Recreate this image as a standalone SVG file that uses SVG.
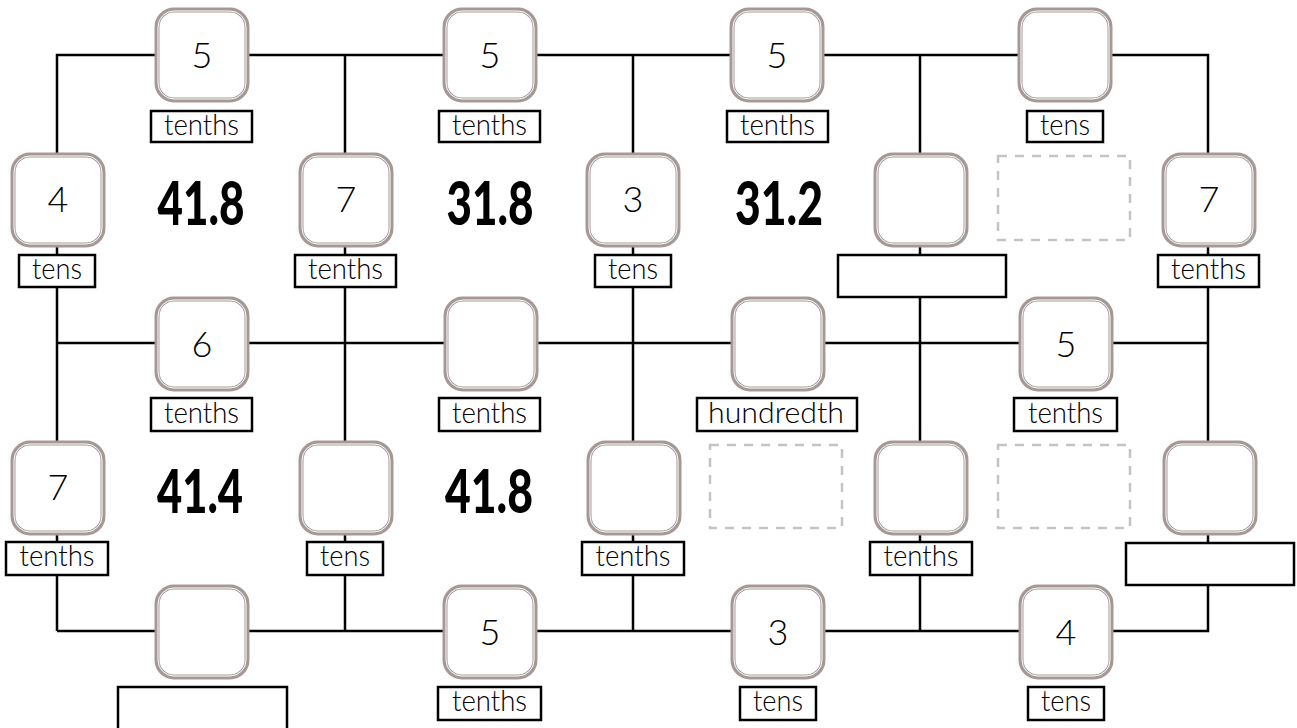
<svg xmlns="http://www.w3.org/2000/svg" width="1297" height="728" viewBox="0 0 1297 728">
<style>
.ln{stroke:#000;stroke-width:2.5;fill:none}
.bo{fill:#fff;stroke:#a59998;stroke-width:5}
.bi{fill:none;stroke:#fff;stroke-width:1}
.lb{fill:#fff;stroke:#000;stroke-width:2.5}
.dash{fill:none;stroke:#c4c4c4;stroke-width:2.5;stroke-dasharray:9 8}
.num{font-family:Lato,"Liberation Sans",sans-serif;font-weight:300;font-size:36px;text-anchor:middle;fill:#000}
.lt{font-family:Lato,"Liberation Sans",sans-serif;font-weight:300;font-size:30px;text-anchor:middle;fill:#000}
.big{font-family:Lato,"Liberation Sans",sans-serif;font-weight:900;font-size:61px;text-anchor:middle;fill:#000}
</style>
<defs>
<g id="box"><rect class="bo" x="-45" y="-45" width="90" height="90" rx="17"/><rect class="bi" x="-44" y="-44" width="88" height="88" rx="16"/></g>
</defs>
<g id="connectors">
<path class="ln" d="M57,631 V55 H1208 V631 H57"/>
<path class="ln" d="M345,55 V631 M633,55 V631 M920,55 V631"/>
<path class="ln" d="M57,343 H1208"/>
</g>
<g id="dashed">
<rect class="dash" x="998" y="156" width="132" height="84"/>
<rect class="dash" x="710" y="445" width="132" height="83"/>
<rect class="dash" x="998" y="445" width="132" height="83"/>
</g>
<g id="numbers">
<text class="big" x="201" y="225" textLength="87" lengthAdjust="spacingAndGlyphs">41.8</text>
<text class="big" x="490" y="225" textLength="87" lengthAdjust="spacingAndGlyphs">31.8</text>
<text class="big" x="779" y="225" textLength="88" lengthAdjust="spacingAndGlyphs">31.2</text>
<text class="big" x="200" y="513" textLength="86" lengthAdjust="spacingAndGlyphs">41.4</text>
<text class="big" x="489" y="513" textLength="88" lengthAdjust="spacingAndGlyphs">41.8</text>
</g>
<g id="n1"><use href="#box" x="202" y="55"/><text class="num" x="202" y="68">5</text><rect class="lb" x="151" y="111" width="101" height="31"/><text class="lt" x="201.5" y="135" textLength="75" lengthAdjust="spacingAndGlyphs">tenths</text></g>
<g id="n2"><use href="#box" x="490" y="55"/><text class="num" x="490" y="68">5</text><rect class="lb" x="439" y="111" width="101" height="31"/><text class="lt" x="489.5" y="135" textLength="75" lengthAdjust="spacingAndGlyphs">tenths</text></g>
<g id="n3"><use href="#box" x="777" y="55"/><text class="num" x="777" y="68">5</text><rect class="lb" x="727" y="111" width="101" height="31"/><text class="lt" x="777.5" y="135" textLength="75" lengthAdjust="spacingAndGlyphs">tenths</text></g>
<g id="n4"><use href="#box" x="1065" y="55"/><rect class="lb" x="1027" y="111" width="76" height="31"/><text class="lt" x="1065" y="135" textLength="50" lengthAdjust="spacingAndGlyphs">tens</text></g>
<g id="n5"><use href="#box" x="58" y="200"/><text class="num" x="58" y="212">4</text><rect class="lb" x="19" y="255" width="76" height="32"/><text class="lt" x="57" y="279" textLength="50" lengthAdjust="spacingAndGlyphs">tens</text></g>
<g id="n6"><use href="#box" x="346" y="200"/><text class="num" x="346" y="212">7</text><rect class="lb" x="295" y="255" width="101" height="32"/><text class="lt" x="345.5" y="279" textLength="75" lengthAdjust="spacingAndGlyphs">tenths</text></g>
<g id="n7"><use href="#box" x="633" y="200"/><text class="num" x="633" y="212">3</text><rect class="lb" x="595" y="255" width="76" height="32"/><text class="lt" x="633" y="279" textLength="50" lengthAdjust="spacingAndGlyphs">tens</text></g>
<g id="n8"><use href="#box" x="921" y="200"/><rect class="lb" x="838" y="255" width="168" height="42"/></g>
<g id="n9"><use href="#box" x="1209" y="200"/><text class="num" x="1209" y="212">7</text><rect class="lb" x="1158" y="255" width="101" height="32"/><text class="lt" x="1208.5" y="279" textLength="75" lengthAdjust="spacingAndGlyphs">tenths</text></g>
<g id="n10"><use href="#box" x="202" y="344"/><text class="num" x="202" y="357">6</text><rect class="lb" x="151" y="398" width="101" height="33"/><text class="lt" x="201.5" y="423" textLength="75" lengthAdjust="spacingAndGlyphs">tenths</text></g>
<g id="n11"><use href="#box" x="491" y="344"/><rect class="lb" x="439" y="398" width="101" height="33"/><text class="lt" x="489.5" y="423" textLength="75" lengthAdjust="spacingAndGlyphs">tenths</text></g>
<g id="n12"><use href="#box" x="778" y="344"/><rect class="lb" x="697" y="398" width="160" height="33"/><text class="lt" x="776" y="423" textLength="136" lengthAdjust="spacingAndGlyphs">hundredth</text></g>
<g id="n13"><use href="#box" x="1066" y="344"/><text class="num" x="1066" y="357">5</text><rect class="lb" x="1014" y="398" width="103" height="33"/><text class="lt" x="1065.5" y="423" textLength="75" lengthAdjust="spacingAndGlyphs">tenths</text></g>
<g id="n14"><use href="#box" x="58" y="488"/><text class="num" x="58" y="500">7</text><rect class="lb" x="6" y="542" width="102" height="33"/><text class="lt" x="57" y="566" textLength="75" lengthAdjust="spacingAndGlyphs">tenths</text></g>
<g id="n15"><use href="#box" x="346" y="488"/><rect class="lb" x="307" y="542" width="76" height="33"/><text class="lt" x="345" y="566" textLength="50" lengthAdjust="spacingAndGlyphs">tens</text></g>
<g id="n16"><use href="#box" x="634" y="488"/><rect class="lb" x="582" y="542" width="102" height="33"/><text class="lt" x="633" y="566" textLength="75" lengthAdjust="spacingAndGlyphs">tenths</text></g>
<g id="n17"><use href="#box" x="921" y="488"/><rect class="lb" x="870" y="542" width="102" height="33"/><text class="lt" x="921" y="566" textLength="75" lengthAdjust="spacingAndGlyphs">tenths</text></g>
<g id="n18"><use href="#box" x="1210" y="488"/><rect class="lb" x="1126" y="543" width="168" height="42"/></g>
<g id="n19"><use href="#box" x="202" y="632"/><rect class="lb" x="118" y="687" width="169" height="50"/></g>
<g id="n20"><use href="#box" x="490" y="632"/><text class="num" x="490" y="645">5</text><rect class="lb" x="438" y="687" width="103" height="33"/><text class="lt" x="489.5" y="711" textLength="75" lengthAdjust="spacingAndGlyphs">tenths</text></g>
<g id="n21"><use href="#box" x="778" y="632"/><text class="num" x="778" y="645">3</text><rect class="lb" x="740" y="687" width="76" height="33"/><text class="lt" x="778" y="711" textLength="50" lengthAdjust="spacingAndGlyphs">tens</text></g>
<g id="n22"><use href="#box" x="1066" y="632"/><text class="num" x="1066" y="645">4</text><rect class="lb" x="1028" y="687" width="76" height="33"/><text class="lt" x="1066" y="711" textLength="50" lengthAdjust="spacingAndGlyphs">tens</text></g>
</svg>
